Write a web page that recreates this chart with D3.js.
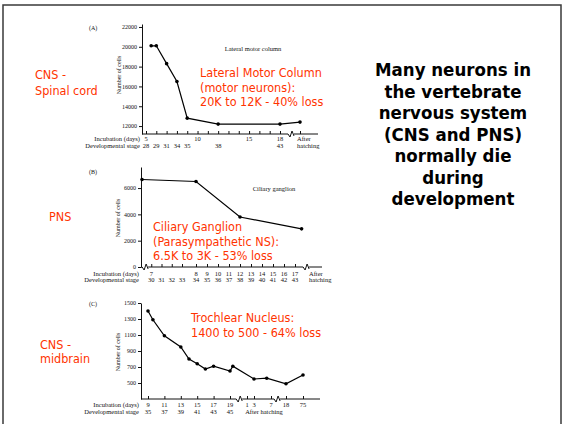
<!DOCTYPE html>
<html>
<head>
<meta charset="utf-8">
<script src="https://cdn.jsdelivr.net/npm/d3@7"></script>
<style>
body { margin: 0; background: #fff; }
svg { display: block; }
.red { fill: #ff3300; font-family: "DejaVu Sans Condensed", "DejaVu Sans", sans-serif; font-stretch: condensed; font-size: 12.5px; }
.big { fill: #000; font-family: "DejaVu Sans Condensed", "DejaVu Sans", sans-serif; font-stretch: condensed; font-weight: bold; font-size: 18.5px; }
.fig text { font-family: "Liberation Serif", "DejaVu Serif", serif; fill: #111; }
</style>
</head>
<body>
<svg id="slide" width="564" height="424"></svg>
<script>

// (A) lateral motor column, x = incubation day (hatching = 21)
var daysA = [5.5, 6, 7, 8, 9, 12, 18, 21];
var cellsA = [20100, 20100, 18300, 16500, 12800, 12200, 12200, 12400];
var tickDaysA = [5, 6, 7, 8, 9, 10, 11, 12, 13, 14, 15, 16, 17, 18, 21];
var labelDaysA = [5, 10, 15, 18];
var stageDaysA = [5, 6, 7, 8, 9, 12, 18];
var stagesA = ["28", "29", "31", "34", "35", "38", "43"];
var yTicksA = [12000, 14000, 16000, 18000, 20000, 22000];

// (B) ciliary ganglion, x = developmental stage
var stageB = [29.1, 34, 38, 43.6];
var cellsB = [6650, 6500, 3800, 2900];
var tickStagesB = [30, 31, 32, 33, 34, 35, 36, 37, 38, 39, 40, 41, 42, 43];
var stageLabelsB = ["30", "31", "32", "33", "34", "35", "36", "37", "38", "39", "40", "41", "42", "43"];
var dayStagesB = [30, 34, 35, 36, 37, 38, 39, 40, 41, 42, 43];
var dayLabelsB = ["7", "8", "9", "10", "11", "12", "13", "14", "15", "16", "17"];
var yTicksB = [0, 2000, 4000, 6000];

// (C) trochlear nucleus, x = age in days (hatching = 21, so post-hatch day d = 21 + d)
var ageC = [9, 9.6, 11, 13, 14, 15, 16, 17, 19, 19.5, 24, 27, 39, 96];
var cellsC = [1400, 1290, 1090, 950, 800, 740, 675, 710, 650, 710, 550, 560, 490, 600];
var tickAgeC = [9, 11, 13, 15, 17, 19, 22, 24, 28, 39, 96];
var dayLabelsC = ["9", "11", "13", "15", "17", "19", "1", "3", "7", "18", "75"];
var stageAgeC = [9, 11, 13, 15, 17, 19];
var stagesC = ["35", "37", "39", "41", "43", "45"];
var yTicksC = [500, 700, 900, 1100, 1300, 1500];

var svg = d3.select("#slide");

// slide frame
svg.append("path")
    .attr("d", "M3,424V5H561V424")
    .attr("fill", "none")
    .attr("stroke", "#3a3a3a")
    .attr("stroke-width", 1.5);

function panel(o) {
  var g = svg.append("g").attr("class", "fig");
  var base = o.y.range()[0];

  var yAxis = g.append("g")
      .attr("transform", "translate(" + o.x0 + ",0)")
      .call(d3.axisLeft(o.y).tickValues(o.yTicks).tickSize(3).tickSizeOuter(0)
          .tickPadding(2).tickFormat(d3.format("d")));
  yAxis.selectAll("text").attr("font-size", 6);
  yAxis.selectAll("line, path").attr("stroke", "#111");

  // x axis line with break marks
  var p = d3.path();
  var xs = o.breaks.map(o.x);
  p.moveTo(o.x0, base);
  xs.forEach(function(bx) {
    p.lineTo(bx - 4, base);
    p.lineTo(bx - 2, base + 3);
    p.lineTo(bx, base - 3);
    p.lineTo(bx + 2, base + 2);
    p.moveTo(bx + 2, base);
  });
  p.lineTo(o.xEnd, base);
  g.append("path").attr("d", p.toString()).attr("fill", "none").attr("stroke", "#111").attr("stroke-width", 1);

  var xAxis = g.append("g")
      .attr("transform", "translate(0," + base + ")")
      .call(d3.axisBottom(o.x).tickValues(o.ticks).tickSize(-3).tickFormat(""));
  xAxis.select(".domain").remove();
  xAxis.selectAll("line").attr("stroke", "#111");

  g.selectAll(null).data(o.dayAt).enter().append("text")
      .attr("x", function(d) { return o.x(d); })
      .attr("y", base + o.row1)
      .attr("text-anchor", "middle")
      .attr("font-size", 6.5)
      .text(function(d, i) { return o.dayLabels[i]; });

  g.selectAll(null).data(o.stageAt).enter().append("text")
      .attr("x", function(d) { return o.x(d); })
      .attr("y", base + o.row2)
      .attr("text-anchor", "middle")
      .attr("font-size", 6.5)
      .text(function(d, i) { return o.stageLabels[i]; });

  g.append("text").attr("x", o.x0 - 2).attr("y", base + o.row1)
      .attr("text-anchor", "end").attr("font-size", 6.5).text("Incubation (days)");
  g.append("text").attr("x", o.x0 - 2).attr("y", base + o.row2)
      .attr("text-anchor", "end").attr("font-size", 6.5).text("Developmental stage");

  g.append("text")
      .attr("transform", "translate(" + (o.x0 - 21) + "," + o.yLabel + ") rotate(-90)")
      .attr("text-anchor", "middle").attr("font-size", 6).text("Number of cells");

  g.append("text").attr("x", 89).attr("y", o.letterY).attr("font-size", 6).text(o.letter);

  var line = d3.line()
      .x(function(d, i) { return o.x(o.xs[i]); })
      .y(function(d) { return o.y(d); });
  g.append("path").datum(o.ys)
      .attr("d", line)
      .attr("fill", "none")
      .attr("stroke", "#000")
      .attr("stroke-width", 1.2);
  g.selectAll(null).data(o.ys).enter().append("circle")
      .attr("cx", function(d, i) { return o.x(o.xs[i]); })
      .attr("cy", function(d) { return o.y(d); })
      .attr("r", 1.8)
      .attr("fill", "#000");
  return g;
}

var gA = panel({
  x: d3.scaleLinear().domain([5, 18, 21]).range([146, 280, 300]),
  y: d3.scaleLinear().domain([11200, 22300]).range([134, 24]),
  x0: 142, xEnd: 318, breaks: [19.8],
  ticks: tickDaysA, yTicks: yTicksA,
  dayAt: labelDaysA, dayLabels: labelDaysA.map(String),
  stageAt: stageDaysA, stageLabels: stagesA,
  row1: 7, row2: 14, yLabel: 75, letter: "(A)", letterY: 30,
  xs: daysA, ys: cellsA
});
gA.append("text").attr("x", 297).attr("y", 141).attr("font-size", 6.5).text("After");
gA.append("text").attr("x", 297).attr("y", 148).attr("font-size", 6.5).text("hatching");
gA.append("text").attr("x", 253).attr("y", 51).attr("text-anchor", "middle").attr("font-size", 6.5).text("Lateral motor column");

var gB = panel({
  x: d3.scaleLinear().domain([29, 33, 34, 43]).range([141, 182, 196, 295]),
  y: d3.scaleLinear().domain([0, 7600]).range([267, 167]),
  x0: 141, xEnd: 322, breaks: [29.5, 44.1],
  ticks: tickStagesB, yTicks: yTicksB,
  dayAt: dayStagesB, dayLabels: dayLabelsB,
  stageAt: tickStagesB, stageLabels: stageLabelsB,
  row1: 9, row2: 15, yLabel: 218, letter: "(B)", letterY: 174,
  xs: stageB, ys: cellsB
});
gB.append("text").attr("x", 309).attr("y", 276).attr("font-size", 6.5).text("After");
gB.append("text").attr("x", 309).attr("y", 282).attr("font-size", 6.5).text("hatching");
gB.append("text").attr("x", 274).attr("y", 191).attr("text-anchor", "middle").attr("font-size", 6.5).text("Ciliary ganglion");

var gC = panel({
  x: d3.scaleLinear().domain([9, 19, 22, 24, 28, 39, 96]).range([148, 230, 247, 254, 271, 286, 303]),
  y: d3.scaleLinear().domain([300, 1500]).range([399, 303]),
  x0: 141, xEnd: 320, breaks: [20.8, 33.2],
  ticks: tickAgeC, yTicks: yTicksC,
  dayAt: tickAgeC, dayLabels: dayLabelsC,
  stageAt: stageAgeC, stageLabels: stagesC,
  row1: 8, row2: 14.5, yLabel: 352, letter: "(C)", letterY: 306,
  xs: ageC, ys: cellsC
});
gC.append("text").attr("x", 264).attr("y", 413.5).attr("text-anchor", "middle").attr("font-size", 6.5).text("After hatching");

// red annotations
function lines(x, ys, texts, cls, anchor) {
  svg.selectAll(null).data(texts).enter().append("text")
      .attr("class", cls)
      .attr("x", x)
      .attr("y", function(d, i) { return ys[i]; })
      .attr("text-anchor", anchor || "start")
      .text(function(d) { return d; });
}
lines(35, [79, 95], ["CNS -", "Spinal cord"], "red");
lines(200, [77, 92, 106], ["Lateral Motor Column", "(motor neurons):", "20K to 12K - 40% loss"], "red");
lines(49, [221], ["PNS"], "red");
lines(153, [231, 246, 260], ["Ciliary Ganglion", "(Parasympathetic NS):", "6.5K to 3K - 53% loss"], "red");
lines(40, [349, 363], ["CNS -", "midbrain"], "red");
lines(191, [322, 337], ["Trochlear Nucleus:", "1400 to 500 - 64% loss"], "red");

lines(453, [76, 97.5, 119, 140.5, 162, 183.5, 205],
  ["Many neurons in", "the vertebrate", "nervous system", "(CNS and PNS)", "normally die", "during", "development"],
  "big", "middle");

</script>
</body>
</html>
